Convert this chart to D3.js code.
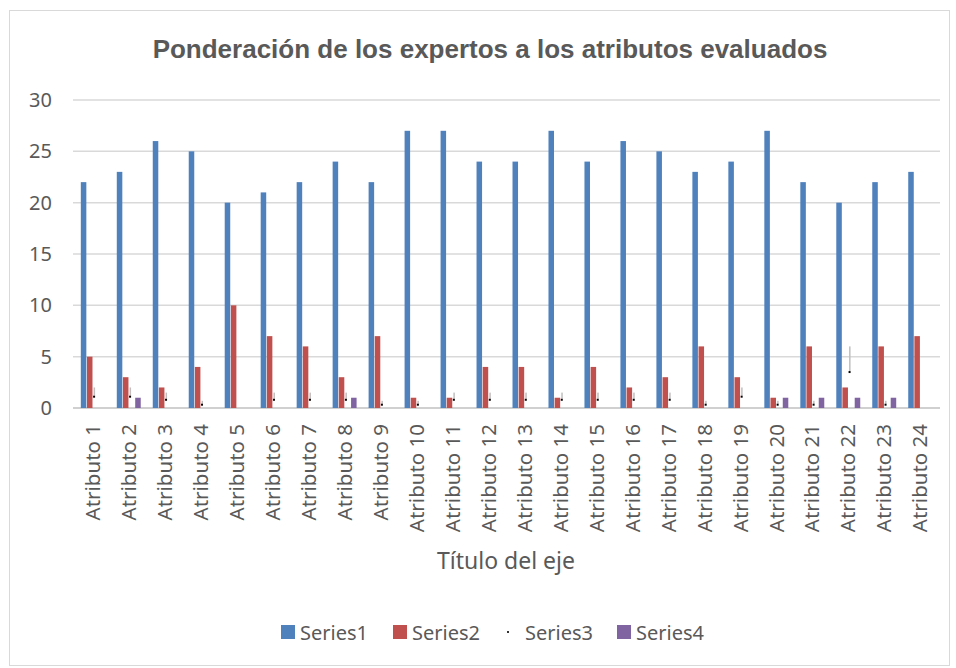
<!DOCTYPE html>
<html>
<head>
<meta charset="utf-8">
<script src="https://cdn.jsdelivr.net/npm/d3@7"></script>
<style>
  body { margin: 0; background: #fff; }
  text { fill: #595959; }
</style>
</head>
<body>
<div id="chart"></div>
<script>
const FRAME_WIDTH = 956;
const FRAME_HEIGHT = 668;
const MARGINS = {left: 73, right: 16, top: 100, bottom: 260};
const VIS_WIDTH = FRAME_WIDTH - MARGINS.left - MARGINS.right;
const VIS_HEIGHT = FRAME_HEIGHT - MARGINS.top - MARGINS.bottom;

// data
const CATEGORIES = d3.range(1, 25).map(i => "Atributo " + i);
const SERIES_NAMES = ["Series1", "Series2", "Series3", "Series4"];
const SERIES1 = [22, 23, 26, 25, 20, 21, 22, 24, 22, 27, 27, 24, 24, 27, 24, 26, 25, 23, 24, 27, 22, 20, 22, 23];
const SERIES2 = [5, 3, 2, 4, 10, 7, 6, 3, 7, 1, 1, 4, 4, 1, 4, 2, 3, 6, 3, 1, 6, 2, 6, 7];
const SERIES3 = [2, 2, 1.5, 0.7, 0, 1.5, 1.5, 1.5, 0.7, 0.7, 1.5, 1.5, 1.5, 1.5, 1.5, 1.5, 1.5, 0.7, 2, 0.7, 0.7, 6, 0.7, 0];
const SERIES4 = [0, 1, 0, 0, 0, 0, 0, 1, 0, 0, 0, 0, 0, 0, 0, 0, 0, 0, 0, 1, 1, 1, 1, 0];
const Y_TICKS = [0, 5, 10, 15, 20, 25, 30];
const COLORS = ["#4F81BD", "#C0504D", "#7F7F7F", "#8064A2"];

const ALL = [SERIES1, SERIES2, SERIES3, SERIES4];

const FONT = "Noto Sans, Liberation Sans, sans-serif";

const svg = d3.select("#chart")
  .append("svg")
    .attr("width", FRAME_WIDTH)
    .attr("height", FRAME_HEIGHT);

// chart border
svg.append("rect")
  .attr("x", 9.5).attr("y", 10.5)
  .attr("width", 940).attr("height", 655)
  .attr("fill", "#fff")
  .attr("stroke", "#D9D9D9");

svg.append("text")
  .attr("x", 490).attr("y", 58)
  .attr("text-anchor", "middle")
  .attr("font-family", "Liberation Sans, Arial, sans-serif")
  .attr("font-weight", "bold")
  .attr("font-size", "26px")
  .text("Ponderación de los expertos a los atributos evaluados");

const X_SCALE = d3.scaleBand()
  .domain(CATEGORIES)
  .range([0, VIS_WIDTH])
  .paddingInner(0.3)
  .paddingOuter(0.2);

const X_INNER = d3.scaleBand()
  .domain(SERIES_NAMES)
  .range([0, X_SCALE.bandwidth()])
  .padding(0.1);

const Y_SCALE = d3.scaleLinear()
  .domain([0, 30])
  .range([VIS_HEIGHT, 0]);

const g = svg.append("g")
  .attr("transform", "translate(" + MARGINS.left + "," + MARGINS.top + ")");

// gridlines
g.selectAll(".grid")
  .data(Y_TICKS)
  .enter().append("line")
    .attr("x1", 0).attr("x2", VIS_WIDTH)
    .attr("y1", d => Y_SCALE(d)).attr("y2", d => Y_SCALE(d))
    .attr("stroke", d => d === 0 ? "#D0D0D0" : "#D9D9D9")
    .attr("stroke-width", d => d === 0 ? 2 : 1.5);

// y axis labels
g.append("g")
  .call(d3.axisLeft(Y_SCALE).tickValues(Y_TICKS).tickSize(0).tickPadding(21))
  .call(a => a.select(".domain").remove())
  .selectAll("text")
    .attr("font-family", FONT)
    .attr("font-size", "20px")
    .attr("fill", "#595959");

// x axis labels, rotated
g.append("g")
  .attr("transform", "translate(0," + VIS_HEIGHT + ")")
  .call(d3.axisBottom(X_SCALE).tickSize(0))
  .call(a => a.select(".domain").remove())
  .selectAll("text")
    .attr("font-family", FONT)
    .attr("font-size", "20.5px")
    .attr("fill", "#595959")
    .attr("text-anchor", "end")
    .attr("transform", "rotate(-90)")
    .attr("x", -16)
    .attr("y", 0)
    .attr("dy", "0.35em");

const groups = g.selectAll(".cat")
  .data(CATEGORIES)
  .enter().append("g")
    .attr("transform", d => "translate(" + X_SCALE(d) + ",0)");

// solid series
[0, 1, 3].forEach(s => {
  groups.append("rect")
    .attr("x", X_INNER(SERIES_NAMES[s]))
    .attr("width", X_INNER.bandwidth())
    .attr("y", (d, i) => Y_SCALE(ALL[s][i]))
    .attr("height", (d, i) => VIS_HEIGHT - Y_SCALE(ALL[s][i]))
    .attr("fill", COLORS[s]);
});

// Series3 renders only as a faint sliver with a dark tick
const s3 = groups.filter((d, i) => SERIES3[i] > 0);
s3.append("rect")
  .attr("x", X_INNER("Series3") + 0.5)
  .attr("width", 1.5)
  .attr("y", d => Y_SCALE(SERIES3[CATEGORIES.indexOf(d)]))
  .attr("height", d => Y_SCALE(SERIES3[CATEGORIES.indexOf(d)] * 0.6) - Y_SCALE(SERIES3[CATEGORIES.indexOf(d)]))
  .attr("fill", "#BFBFBF");
s3.append("rect")
  .attr("x", X_INNER("Series3"))
  .attr("width", 2)
  .attr("y", d => Y_SCALE(SERIES3[CATEGORIES.indexOf(d)] * 0.6))
  .attr("height", 2)
  .attr("fill", "#000");

// axis title
svg.append("text")
  .attr("x", 506).attr("y", 569)
  .attr("text-anchor", "middle")
  .attr("font-family", FONT)
  .attr("font-size", "23px")
  .text("Título del eje");

// legend
const LEGEND_X = [281, 393, 507, 617];
const legend = svg.append("g").attr("transform", "translate(0,625)");
SERIES_NAMES.forEach((name, i) => {
  if (i === 2) {
    legend.append("rect")
      .attr("x", LEGEND_X[i]).attr("y", 6)
      .attr("width", 2).attr("height", 2)
      .attr("fill", "#333");
  } else {
    legend.append("rect")
      .attr("x", LEGEND_X[i]).attr("y", 0)
      .attr("width", 14).attr("height", 14)
      .attr("fill", COLORS[i]);
  }
  legend.append("text")
    .attr("x", LEGEND_X[i] + (i === 2 ? 18 : 19))
    .attr("y", 15)
    .attr("font-family", FONT)
    .attr("font-size", "20px")
    .text(name);
});
</script>
</body>
</html>
